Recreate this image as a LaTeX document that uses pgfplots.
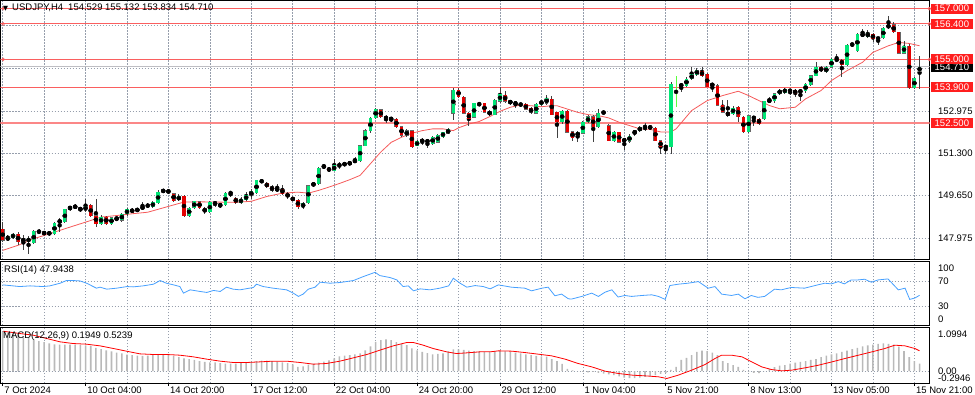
\documentclass[border=0pt]{standalone}
\usepackage{fontspec}
\setmainfont{Liberation Sans}
\newfontfamily\dejavu{DejaVu Sans}
\usepackage{pgfplots}
\usepackage{pgfplotstable}
\pgfplotsset{compat=1.18}
\definecolor{gridc}{RGB}{150,158,172}
\definecolor{bull}{RGB}{0,230,118}
\definecolor{bear}{RGB}{228,0,0}
\definecolor{lvl}{RGB}{250,95,95}
\definecolor{lvlbox}{RGB}{255,30,30}
\definecolor{rsic}{RGB}{70,160,255}
\definecolor{mac}{RGB}{185,185,185}
\definecolor{ma}{RGB}{245,90,90}
\definecolor{bid}{RGB}{190,190,195}

\pgfplotstableread{
x o h l c
0 148.34 148.60 147.82 147.88
1 147.90 148.10 147.88 148.01
2 147.99 148.18 147.93 148.12
3 148.14 148.20 147.72 147.81
4 147.95 148.10 147.50 147.82
5 147.82 148.05 147.36 147.98
6 147.78 148.28 147.74 148.24
7 148.22 148.32 148.12 148.24
8 148.20 148.25 148.10 148.14
9 148.18 148.22 148.10 148.14
10 148.14 148.60 148.10 148.57
11 148.60 148.75 148.20 148.66
12 148.60 149.12 148.55 149.10
13 149.12 149.25 149.05 149.20
14 149.24 149.32 149.10 149.17
15 149.06 149.20 149.00 149.17
16 149.06 149.50 149.00 149.24
17 149.26 149.30 148.80 148.86
18 148.86 149.50 148.40 148.54
19 148.54 148.90 148.50 148.80
20 148.80 148.85 148.50 148.54
21 148.52 148.82 148.48 148.78
22 148.77 148.80 148.65 148.72
23 148.67 148.95 148.60 148.93
24 148.92 149.15 148.85 149.10
25 149.10 149.15 148.95 149.00
26 149.03 149.16 149.00 149.13
27 149.12 149.40 149.08 149.22
28 149.24 149.35 149.15 149.26
29 149.19 149.42 149.15 149.39
30 149.36 149.85 149.33 149.78
31 149.78 149.92 149.74 149.88
32 149.87 149.92 149.70 149.74
33 149.72 149.75 149.40 149.45
34 149.48 149.70 149.42 149.61
35 149.61 149.65 148.82 148.86
36 148.86 149.20 148.82 149.16
37 149.16 149.45 149.10 149.42
38 149.41 149.45 149.10 149.16
39 149.16 149.20 148.92 148.99
40 148.99 149.42 148.95 149.39
41 149.41 149.45 149.20 149.26
42 149.32 149.36 149.15 149.22
43 149.29 149.78 149.25 149.74
44 149.74 149.80 149.60 149.76
45 149.56 149.60 149.30 149.35
46 149.35 149.58 149.30 149.52
47 149.48 149.80 149.45 149.65
48 149.65 149.90 149.50 149.82
49 149.74 150.27 149.70 150.24
50 150.20 150.27 150.15 150.22
51 150.14 150.18 149.95 149.98
52 150.00 150.05 149.80 149.85
53 149.83 150.10 149.80 149.94
54 149.91 150.05 149.68 149.72
55 149.74 149.80 149.50 149.58
56 149.58 149.60 149.42 149.45
57 149.48 149.50 149.12 149.19
58 149.19 149.40 149.10 149.35
59 149.35 150.08 149.30 150.04
60 150.04 150.18 149.98 150.14
61 150.11 150.78 150.05 150.72
62 150.74 150.90 150.70 150.83
63 150.72 150.76 150.58 150.63
64 150.63 151.09 150.60 150.83
65 150.84 150.95 150.70 150.86
66 150.90 150.95 150.82 150.86
67 150.87 151.00 150.84 150.96
68 150.96 151.15 150.93 151.05
69 151.02 151.64 150.98 151.61
70 151.61 152.25 151.58 152.20
71 152.18 152.72 152.10 152.70
72 152.70 153.10 152.65 153.06
73 153.03 153.06 152.70 152.73
74 152.70 152.80 152.50 152.71
75 152.63 152.72 152.55 152.70
76 152.64 152.68 152.30 152.36
77 152.36 152.40 151.95 152.01
78 152.01 152.25 151.97 152.20
79 152.20 152.22 151.50 151.55
80 151.61 151.85 151.58 151.78
81 151.86 151.90 151.62 151.74
82 151.83 151.86 151.50 151.74
83 151.67 152.00 151.63 151.96
84 151.74 152.08 151.70 152.04
85 151.96 152.16 151.90 152.13
86 152.09 152.30 152.05 152.26
87 152.88 153.86 152.62 153.80
88 153.80 153.86 153.50 153.54
89 153.51 153.55 152.85 152.88
90 152.88 152.92 152.40 152.66
91 152.72 153.30 152.68 153.27
92 153.24 153.32 153.15 153.25
93 153.27 153.30 152.88 152.92
94 152.95 153.00 152.78 152.83
95 152.83 153.45 152.80 153.40
96 153.35 153.90 153.30 153.64
97 153.61 153.75 153.30 153.35
98 153.38 153.42 153.22 153.27
99 153.34 153.38 153.10 153.20
100 153.22 153.30 153.15 153.24
101 153.24 153.30 153.00 153.04
102 153.08 153.12 152.85 152.92
103 152.88 153.28 152.85 153.24
104 153.22 153.42 153.18 153.38
105 153.27 153.61 153.22 153.47
106 153.44 153.55 152.80 152.83
107 152.92 152.95 151.92 152.53
108 152.53 153.00 152.45 152.98
109 152.98 153.02 152.10 152.13
110 152.16 152.20 151.80 151.93
111 152.00 152.20 151.74 152.13
112 152.09 152.58 152.05 152.53
113 152.53 152.80 152.50 152.75
114 152.75 152.80 151.74 152.36
115 152.36 153.05 152.30 152.88
116 152.90 152.98 152.85 152.92
117 152.40 152.45 151.78 151.81
118 151.81 152.18 151.75 152.13
119 152.13 152.16 151.70 151.74
120 151.87 151.90 151.45 151.78
121 151.78 152.05 151.72 152.00
122 152.07 152.24 152.00 152.20
123 152.20 152.38 152.15 152.33
124 152.26 152.50 152.20 152.36
125 152.36 152.40 152.25 152.30
126 152.30 152.35 151.78 151.81
127 151.81 151.85 151.29 151.55
128 151.58 151.65 151.29 151.55
129 151.55 154.10 151.29 154.04
131 154.04 154.06 153.71 153.93
132 153.97 154.33 153.90 154.24
133 154.24 154.69 154.20 154.41
134 154.40 154.65 154.35 154.59
135 154.54 154.69 154.33 154.37
136 154.41 154.45 153.90 153.93
137 154.04 154.08 153.71 153.97
138 153.97 154.04 153.15 153.19
139 153.19 153.41 152.88 152.92
140 152.92 153.41 152.75 152.80
141 152.86 153.15 152.82 153.10
142 153.12 153.16 152.53 152.73
143 152.73 152.78 152.10 152.14
144 152.14 152.83 152.10 152.79
145 152.72 152.79 152.40 152.70
146 152.66 152.70 152.43 152.47
147 152.66 153.38 152.60 153.35
148 153.35 153.51 153.30 153.40
149 153.37 153.70 153.30 153.66
150 153.66 153.83 153.60 153.79
151 153.70 153.88 153.65 153.83
152 153.79 153.83 153.60 153.76
153 153.79 153.85 153.51 153.66
154 153.72 153.83 153.37 153.77
155 153.75 154.08 153.70 154.04
156 154.01 154.40 153.97 154.37
157 154.37 154.89 154.33 154.69
158 154.69 154.74 154.50 154.54
159 154.50 154.73 154.45 154.69
160 154.69 155.06 154.65 155.02
161 155.00 155.20 154.90 154.97
162 154.98 155.02 154.30 154.80
163 154.80 155.62 154.75 155.58
164 155.58 155.66 155.50 155.61
165 155.35 156.05 155.30 156.00
166 155.94 156.20 155.90 156.00
167 155.90 156.16 155.85 156.03
168 156.00 156.05 155.68 155.81
169 155.82 155.90 155.58 155.85
170 155.85 156.28 155.80 156.24
171 156.24 156.72 156.20 156.37
172 156.37 156.46 156.03 156.07
173 156.07 156.10 155.20 155.24
174 155.24 155.73 155.20 155.54
175 155.54 155.60 153.85 153.88
176 153.88 154.30 153.83 154.26
177 154.53 155.13 153.83 154.71
}\ohlc

\pgfplotstableread{
x m
0 .98
1 .96
2 .94
3 .92
4 .87
5 .83
6 .79
7 .75
8 .72
9 .69
10 .67
11 .66
12 .66
13 .66
14 .66
15 .65
16 .64
17 .63
18 .58
19 .55
20 .52
21 .49
22 .46
23 .44
24 .41
25 .40
26 .39
27 .38
28 .39
29 .40
30 .41
31 .42
32 .40
33 .38
34 .35
35 .32
36 .30
37 .28
38 .25
39 .23
40 .22
41 .22
42 .20
43 .19
44 .19
45 .19
46 .20
47 .21
48 .23
49 .25
50 .26
51 .26
52 .25
53 .24
54 .22
55 .20
56 .17
57 .11
58 .12
59 .16
60 .19
61 .21
62 .24
63 .27
64 .32
65 .37
66 .39
67 .40
68 .42
69 .44
70 .52
71 .62
72 .73
73 .77
74 .79
75 .77
76 .72
77 .68
78 .65
79 .57
80 .52
81 .48
82 .45
83 .42
84 .43
85 .44
86 .49
87 .54
88 .54
89 .53
90 .51
91 .50
92 .49
93 .48
94 .48
95 .49
96 .50
97 .49
98 .48
99 .46
100 .44
101 .42
102 .40
103 .38
104 .37
105 .36
106 .30
107 .25
108 .18
109 .06
110 .02
111 .00
112 -.02
113 -.03
114 -.02
115 -.04
116 -.06
117 -.08
118 -.10
119 -.13
120 -.16
121 -.17
122 -.17
123 -.16
124 -.14
125 -.12
126 -.10
127 -.07
128 -.04
129 .03
130 .11
131 .28
132 .33
133 .40
134 .48
135 .51
136 .50
137 .46
138 .40
139 .25
140 .20
141 .15
142 .11
143 .03
144 -.01
145 -.04
146 -.05
147 .00
148 .06
149 .10
150 .14
151 .15
152 .19
153 .21
154 .23
155 .25
156 .28
157 .30
158 .35
159 .39
160 .42
161 .44
162 .48
163 .51
164 .55
165 .58
166 .62
167 .64
168 .66
169 .68
170 .69
171 .68
172 .66
173 .61
174 .50
175 .35
176 .25
177 .19
}\macd

\tikzset{
  lbl/.style={anchor=west, fill=lvlbox, text=white, inner xsep=3.5pt, inner ysep=0pt,
    minimum height=10pt, xshift=1.5pt, font=\fontsize{9.5}{11}\selectfont},
}
\pgfplotsset{
  mt/.style={
    scale only axis, width=929pt,
    xmin=-0.42, xmax=178.92,
    axis line style={black, line width=0.9pt},
    xtick={0,16,...,176}, minor xtick={8,24,...,168},
    xmajorgrids=true, xminorgrids=true, ymajorgrids=true,
    major grid style={gridc, line width=0.6pt, dash pattern=on 1.2pt off 1.8pt},
    minor grid style={gridc, line width=0.6pt, dash pattern=on 1.2pt off 1.8pt},
    ytick pos=right, xtick pos=bottom,
    tick align=outside,
    major tick length=3pt, minor tick length=0pt,
    tick style={black, line width=0.6pt},
    ticklabel style={font=\fontsize{9.5}{11}\selectfont, text=black},
    yticklabel style={anchor=west, inner sep=0pt, xshift=5.5pt},
    clip mode=individual,
  },
  eb/.style={only marks, mark=none, forget plot,
    error bars/.cd, y dir=both, y explicit, error mark=none,
    error bar style={#1, line cap=butt}},
}

\begin{document}
\begin{tikzpicture}
\useasboundingbox (0,0) rectangle (975pt,-394pt);

% ---------------- price panel
\begin{axis}[mt, at={(0.5pt,-0.5pt)}, anchor=north west, height=259pt,
  ymin=147.13, ymax=157.32,
  ytick={147.975,149.65,151.3,152.975,154.65,156.325},
  yticklabels={147.975,149.650,151.300,152.975,{},{}},
  xticklabels={}, xtick style={draw=none}, ytick style={draw=none}]
% bid line
\addplot[bid, line width=0.9pt] coordinates {(-0.42,154.71) (178.92,154.71)};
% levels
\addplot[lvl, line width=1.0pt] coordinates {(-0.42,157.0) (178.92,157.0)};
\addplot[lvl, line width=0.8pt] coordinates {(-0.42,156.4) (178.92,156.4)};
\addplot[lvl, line width=0.8pt] coordinates {(-0.42,155.0) (178.92,155.0)};
\addplot[lvl, line width=0.8pt] coordinates {(-0.42,153.9) (178.92,153.9)};
\addplot[lvl!75!white, line width=1.6pt] coordinates {(-0.42,152.5) (178.92,152.5)};
\addplot[only marks, mark=o, mark size=1.4pt, lvl, mark options={line width=0.6pt}]
  coordinates {(0.1,157.0) (0.1,156.4) (0.1,155.0) (178.9,157.0) (178.9,156.4) (178.9,155.0)};
% moving average
\addplot[ma, line width=0.8pt] coordinates {
(0,147.49) (3,147.69) (6,147.95) (9,148.14) (12,148.34) (16,148.60) (19,148.80) (22,148.86)
(25,148.93) (28,148.99) (32,149.22) (35,149.39) (38,149.40) (41,149.39) (45,149.38) (48,149.42)
(51,149.61) (54,149.74) (57,149.78) (59,149.74) (61,149.85) (63,149.98) (65,150.12) (67,150.27)
(69,150.44) (71,150.90) (73,151.36) (75,151.74) (77,151.94) (79,152.10) (81,152.20) (83,152.27)
(85,152.27) (87,152.20) (88,152.31) (90,152.46) (92,152.56) (94,152.75) (96,152.96) (98,153.12)
(100,153.21) (102,153.18) (104,153.14) (106,153.18) (107,153.18) (109,153.05) (111,152.92)
(113,152.83) (115,152.79) (117,152.70) (119,152.53) (121,152.40) (123,152.27) (125,152.25)
(127,152.15) (129,152.15) (130,152.27) (133,152.99) (136,153.38) (139,153.58) (142,153.75)
(144,153.58) (146,153.38) (148,153.19) (150,153.06) (153,153.12) (155,153.45) (158,153.78)
(160,154.17) (163,154.56) (166,154.89) (168,155.28) (171,155.54) (173,155.67) (175,155.63) (177,155.54)};
% candles: wicks
\addplot[eb={black!75, line width=0.8pt}]
  table[x=x, y expr={(\thisrow{h}+\thisrow{l})/2}, y error expr={(\thisrow{h}-\thisrow{l})/2}] {\ohlc};
\addplot[only marks, mark=none, forget plot, error bars/.cd, y dir=both, y explicit, error mark=none,
  error bar style={color={rgb,255:red,90;green,255;blue,60}, line width=0.9pt}]
  coordinates {(130,153.725) +- (0,0.605)};
% bodies outline
\addplot[eb={black!60, line width=3.8pt}]
  table[x=x, y expr={(\thisrow{o}+\thisrow{c})/2}, y error expr={max(abs(\thisrow{c}-\thisrow{o})/2,0.045)+0.008}] {\ohlc};
% bull bodies
\addplot[restrict expr to domain={\thisrow{c}-\thisrow{o}}{0.035:100}, eb={bull, line width=3.3pt}]
  table[x=x, y expr={(\thisrow{o}+\thisrow{c})/2}, y error expr={max(abs(\thisrow{c}-\thisrow{o})/2,0.045)}] {\ohlc};
% bear bodies
\addplot[restrict expr to domain={\thisrow{c}-\thisrow{o}}{-100:-0.035}, eb={bear, line width=3.3pt}]
  table[x=x, y expr={(\thisrow{o}+\thisrow{c})/2}, y error expr={max(abs(\thisrow{c}-\thisrow{o})/2,0.045)}] {\ohlc};
% labels
\node[lbl] at (axis cs:178.92,157.0) {157.000};
\node[lbl] at (axis cs:178.92,156.4) {156.400};
\node[lbl, fill=black] at (axis cs:178.92,154.71) {154.710};
\node[lbl] at (axis cs:178.92,155.0) {155.000};
\node[lbl] at (axis cs:178.92,153.9) {153.900};
\node[lbl] at (axis cs:178.92,152.5) {152.500};
\node[anchor=north west, inner sep=0pt, font=\fontsize{9.5}{11}\selectfont] at (rel axis cs:0,1)
  [xshift=2.5pt, yshift=-3.5pt] {{\dejavu\fontsize{6.5}{7}\selectfont ▼}\hspace{4pt}USDJPY,H4\hspace{5pt}154.529 155.132 153.834 154.710};
\end{axis}

% ---------------- RSI panel
\begin{axis}[mt, at={(0.5pt,-261pt)}, anchor=north west, height=64pt,
  ymin=0, ymax=103.2, ytick={30,70}, yticklabels={30,70},
  extra y ticks={91.9,9.7}, extra y tick labels={100,0}, extra y tick style={grid=none},
  xticklabels={}, xtick style={draw=none}, ytick style={draw=none}]
\addplot[rsic, line width=0.8pt] coordinates {
(0,64.7) (1.4,63.6) (3.3,62.0) (5.3,63.1) (7.8,62.0) (9.1,63.1) (11.1,67.4) (12.3,71.7) (13.6,71.7)
(14.9,71.1) (16.2,67.4) (18.1,59.4) (18.8,61.0) (20.1,57.8) (22,59.4) (24,62.0) (25.2,61.5) (27.1,63.1)
(29.1,65.8) (30.4,71.7) (31.6,67.4) (33,64.7) (34.2,62.0) (34.9,51.4) (36.2,56.7) (38.1,54.1) (39.4,52.5)
(40.7,55.7) (42,54.1) (43.2,61.0) (44.5,57.8) (45.8,56.7) (48.4,60.5) (49,65.8) (50.3,62.0) (52.2,59.4)
(54.8,56.7) (56.1,51.4) (57.1,46.1) (58,49.8) (59,57.8) (60.3,61.0) (61.3,69.0) (63.2,67.4) (65.1,68.5)
(67.7,71.7) (69.6,78.0) (71.9,85.0) (72.8,79.7) (74.8,76.5) (76.1,72.7) (77.3,62.0) (78.3,63.1) (79.3,55.1)
(80.6,58.3) (82.5,56.7) (84.4,59.4) (86.1,63.1) (87,75.4) (88.3,67.4) (89.6,61.0) (91.2,63.6) (92.8,62.0)
(94.1,58.3) (95.7,64.7) (98.2,61.0) (100.8,59.4) (102.1,55.1) (104.1,59.4) (105.3,61.0) (106.6,47.1)
(107.9,49.8) (109.2,42.3) (109.8,41.8) (111.8,46.1) (113.7,51.4) (115,46.1) (116.3,53.0) (117.6,56.7)
(118.8,45.1) (120.1,47.6) (121.4,46.1) (123.4,47.6) (125.3,48.7) (126.6,46.1) (127.9,41.3) (128.8,63.6)
(130.4,65.8) (132.3,67.4) (134.3,70.0) (136.2,59.4) (137.5,62.0) (138.8,49.8) (140.7,47.6) (142,49.8)
(143.3,42.3) (144.5,47.6) (145.8,44.6) (147.1,46.1) (149,57.8) (150.3,56.7) (152.2,60.5) (154.8,59.4)
(156.8,63.6) (158.7,67.4) (160,66.3) (161.3,70.0) (162.5,66.3) (163.8,72.7) (165.1,72.7) (166.4,73.8)
(167.7,69.0) (169,72.7) (170.9,74.3) (172.9,56.7) (174.2,59.4) (175.1,41.3) (176.1,43.5) (177,47.9)};
\node[anchor=north west, inner sep=0pt, font=\fontsize{9.5}{11}\selectfont] at (rel axis cs:0,1)
  [xshift=3.5pt, yshift=-4pt] {RSI(14) 47.9438};
\end{axis}

% ---------------- MACD panel
\begin{axis}[mt, at={(0.5pt,-327pt)}, anchor=north west, height=56pt,
  ymin=-0.2946, ymax=1.0994,
  ytick={0}, yticklabels={0.00},
  extra y ticks={0.925,-0.185}, extra y tick labels={1.0994,-0.2946}, extra y tick style={grid=none},
  ytick style={draw=none},
  xticklabels={7 Oct 2024,10 Oct 04:00,14 Oct 20:00,17 Oct 12:00,22 Oct 04:00,24 Oct 20:00,29 Oct 12:00,1 Nov 04:00,5 Nov 21:00,8 Nov 13:00,13 Nov 05:00,15 Nov 21:00},
  xticklabel style={anchor=north west, inner sep=0pt, xshift=1.5pt, yshift=-1pt}]
\addplot[ybar, bar width=1.6pt, fill=mac, draw=none] table[x=x, y=m] {\macd};
\addplot[red, line width=0.8pt] coordinates {
(0.1,.995) (3.3,.937) (5.9,.896) (8.5,.813) (11.1,.730) (13.6,.688) (16.2,.672) (18.8,.630) (21.4,.564)
(23.9,.498) (26.5,.431) (29.1,.415) (31.6,.415) (34.2,.398) (36.8,.357) (39.4,.299) (42,.249) (44.5,.216)
(47.1,.216) (49.7,.232) (52.2,.249) (54.8,.249) (57.4,.216) (60,.174) (62.5,.191) (65.1,.249) (67.7,.332)
(70.3,.415) (72.8,.522) (75.4,.630) (78,.713) (79.3,.713) (81.2,.647) (83.1,.564) (85.7,.481) (87.6,.439)
(89.6,.456) (92.1,.481) (94.1,.481) (95.7,.506) (98.3,.498) (100.8,.464) (103.4,.423) (106,.381) (108.6,.299)
(111.1,.191) (113.7,.108) (116.3,0) (118.9,-.058) (121.6,-.1) (124,-.116) (126.6,-.141) (128.2,-.182)
(130.4,-.1) (133,.025) (135.6,.166) (137.5,.315) (138.8,.398) (140.7,.398) (142.7,.357) (144.6,.232)
(146.5,.108) (148.4,.041) (150.4,.008) (152.3,.025) (154.9,.083) (157.5,.149) (160.1,.232) (162.6,.315)
(165.2,.398) (167.8,.481) (170.3,.564) (172.2,.647) (174.2,.630) (176.1,.564) (177,.506)};
\node[anchor=north west, inner sep=0pt, font=\fontsize{9.5}{11}\selectfont] at (rel axis cs:0,1)
  [xshift=2.5pt, yshift=-4pt] {MACD(12,26,9) 0.1949 0.5239};
\end{axis}
\end{tikzpicture}
\end{document}
